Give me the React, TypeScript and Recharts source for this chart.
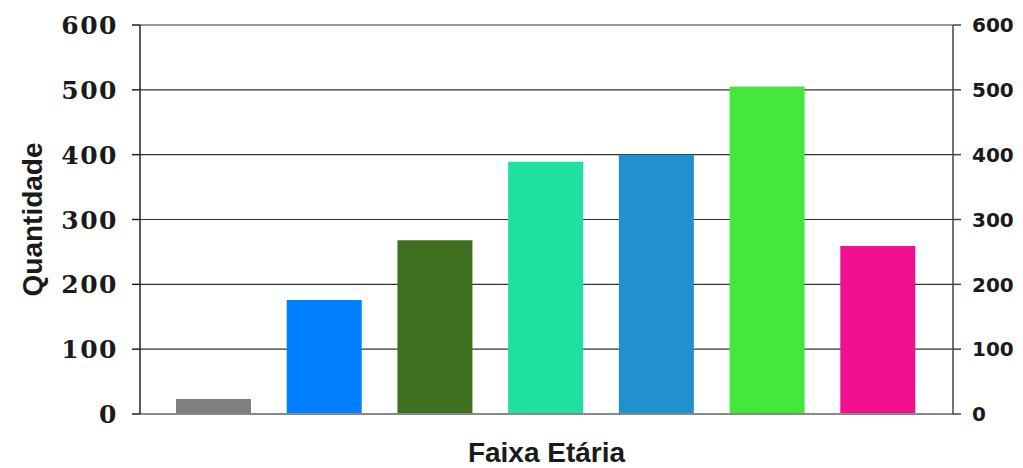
import { ComposedChart, Bar, Line, XAxis, YAxis, CartesianGrid, Cell, Label } from 'recharts';

// Faixas etárias (sem rótulos visíveis no gráfico)
const faixas = ['F1', 'F2', 'F3', 'F4', 'F5', 'F6', 'F7'];
const quantidades = [23, 176, 268, 389, 400, 505, 259];
const cores = ['#808080', '#0080FF', '#3F7020', '#20E0A0', '#2090D0', '#44E83C', '#F01090'];
const ticksY = [0, 100, 200, 300, 400, 500, 600];

const dados = faixas.map((faixa, i) => ({ faixa, quantidade: quantidades[i] }));

const fonteTitulo = { fontFamily: 'Liberation Sans, Arial', fontWeight: 'bold', fontSize: 28, fill: '#1a1a1a' };

// tick com tracinho desenhado junto do texto
function TickEsquerda({ x, y, payload }: any) {
  return (
    <g>
      <line x1={x - 8} y1={y} x2={x} y2={y} stroke="#222" strokeWidth={1.5} />
      <text
        x={x - 22}
        y={y}
        dy="0.36em"
        textAnchor="end"
        letterSpacing={1.5}
        style={{ fontFamily: 'DejaVu Serif', fontWeight: 'bold', fontSize: 25, fill: '#1a1a1a' }}
      >
        {payload.value}
      </text>
    </g>
  );
}

function TickDireita({ x, y, payload }: any) {
  return (
    <g>
      <line x1={x} y1={y} x2={x + 8} y2={y} stroke="#444" strokeWidth={1.5} />
      <text
        x={x + 19}
        y={y}
        dy="0.36em"
        textAnchor="start"
        style={{ fontFamily: 'DejaVu Sans', fontWeight: 'bold', fontSize: 20, fill: '#1a1a1a' }}
      >
        {payload.value}
      </text>
    </g>
  );
}

export default function App() {
  return (
    <div style={{ position: 'absolute', left: 0, top: 0, background: '#fff' }}>
      <ComposedChart width={1023} height={468} data={dados} margin={{ top: 25, right: 0, left: 0, bottom: 0 }}>
        <CartesianGrid yAxisId="left" vertical={false} stroke="#333" strokeWidth={1.2} />
        <XAxis
          dataKey="faixa"
          tick={false}
          tickLine={false}
          height={54}
          padding={{ left: 18, right: 20 }}
          axisLine={{ stroke: '#888', strokeWidth: 2 }}
        >
          <Label
            content={({ viewBox }: any) => (
              <text x={viewBox.x + viewBox.width / 2} y={462} textAnchor="middle" style={fonteTitulo}>
                Faixa Etária
              </text>
            )}
          />
        </XAxis>
        <YAxis
          yAxisId="left"
          width={140}
          domain={[0, 600]}
          ticks={ticksY}
          tickSize={0}
          tickMargin={0}
          tickLine={false}
          axisLine={{ stroke: '#222', strokeWidth: 1.5 }}
          tick={<TickEsquerda />}
        >
          <Label
            content={({ viewBox }: any) => {
              const cy = viewBox.y + viewBox.height / 2;
              return (
                <text x={42} y={cy} transform={`rotate(-90 42 ${cy})`} textAnchor="middle" style={fonteTitulo}>
                  Quantidade
                </text>
              );
            }}
          />
        </YAxis>
        <YAxis
          yAxisId="right"
          orientation="right"
          width={70}
          domain={[0, 600]}
          ticks={ticksY}
          tickSize={0}
          tickMargin={0}
          tickLine={false}
          axisLine={{ stroke: '#444', strokeWidth: 1.5 }}
          tick={<TickDireita />}
        />
        <Bar yAxisId="left" dataKey="quantidade" barSize={75} isAnimationActive={false}>
          {dados.map((d, i) => (
            <Cell key={d.faixa} fill={cores[i]} />
          ))}
        </Bar>
        {/* série invisível só para ativar o eixo da direita */}
        <Line
          yAxisId="right"
          dataKey="quantidade"
          stroke="none"
          dot={false}
          activeDot={false}
          isAnimationActive={false}
        />
      </ComposedChart>
    </div>
  );
}
